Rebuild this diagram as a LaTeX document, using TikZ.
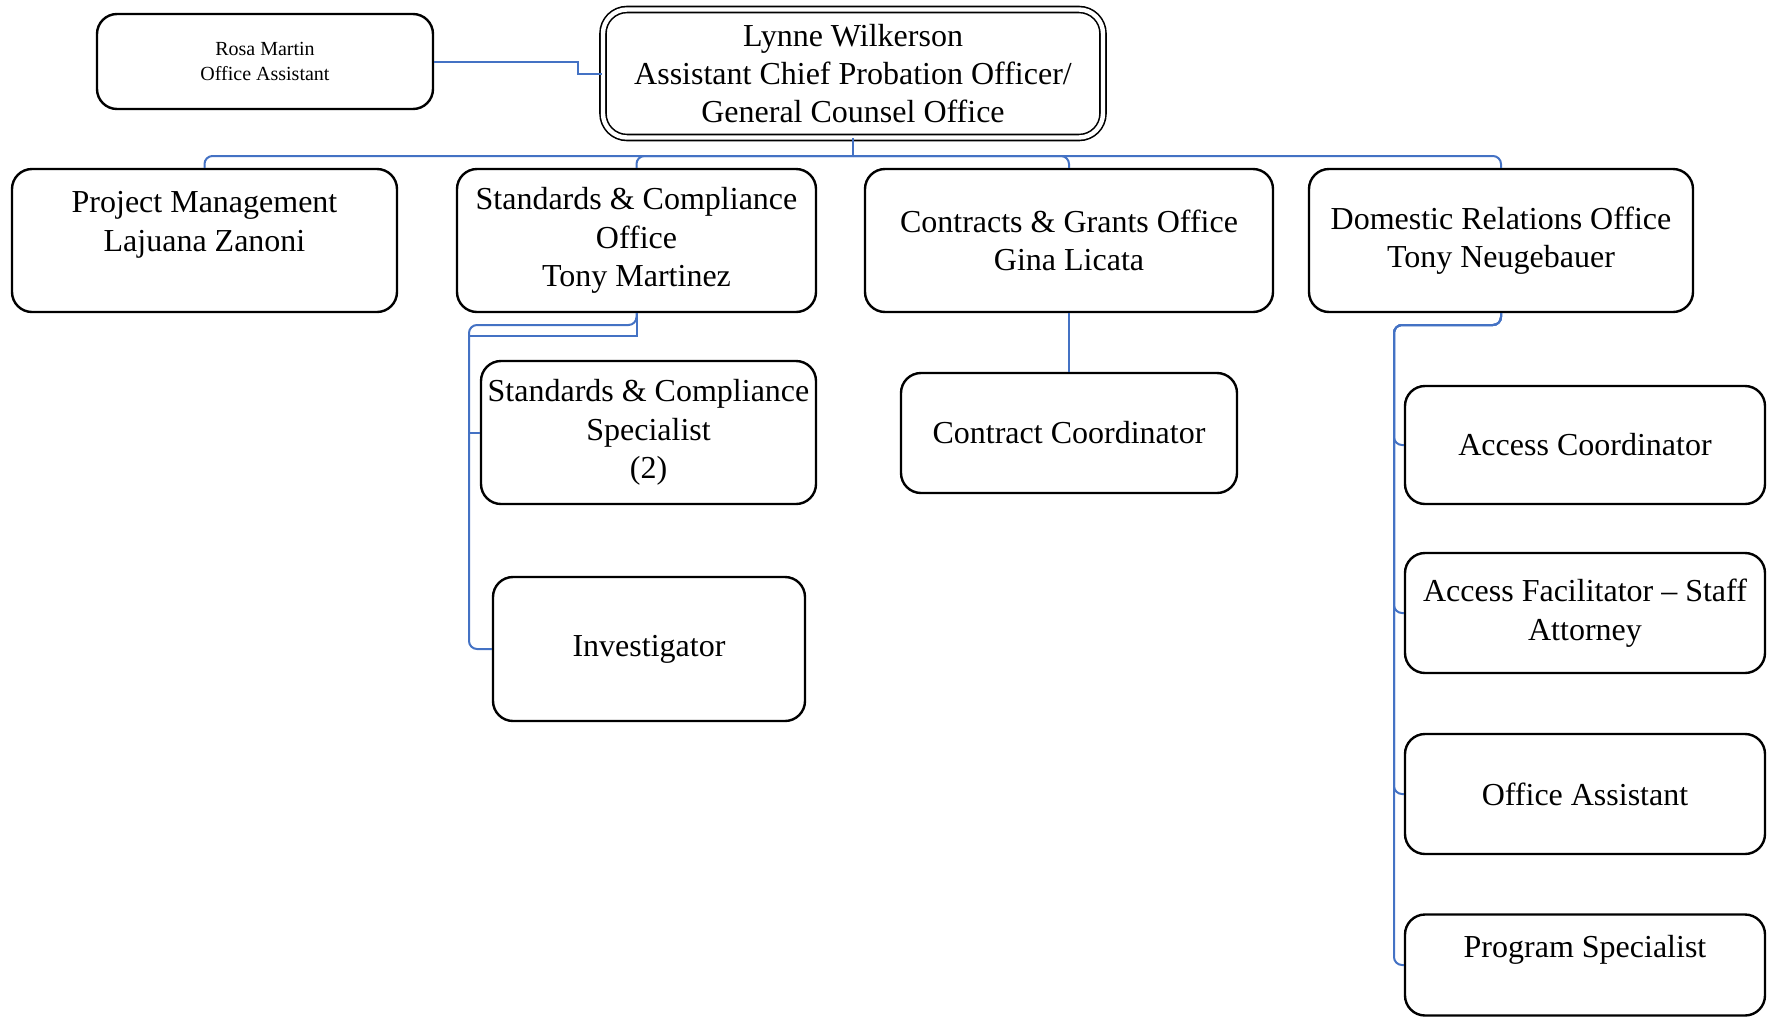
\documentclass[tikz,border=0pt]{standalone}
\usepackage{fontspec}
\setmainfont{Liberation Serif}
\definecolor{linkblue}{RGB}{68,114,196}
\begin{document}
\begin{tikzpicture}[
    x=0.5pt, y=-0.5pt,
    unit/.style={draw, line width=1.2pt, rounded corners=10pt, align=center, inner sep=2pt, font=\fontsize{16}{19.2}\selectfont},
    head/.style={unit, double, double distance=2.2pt, line width=0.8pt, rounded corners=12pt},
    small/.style={unit, font=\fontsize{10}{12.4}\selectfont},
    link/.style={draw=linkblue, line width=1pt, rounded corners=4pt}
]
    \useasboundingbox (0,0) rectangle (1768,1018);

    % Head and assistant
    \node[head, minimum width=250pt, minimum height=64pt] (lynne) at (853,73.5) {Lynne Wilkerson\\Assistant Chief Probation Officer/\\General Counsel Office};
    \node[small, minimum width=168pt, minimum height=47.5pt] (rosa) at (265,61.5) {Rosa Martin\\Office Assistant};

    % Offices
    \node[unit, minimum width=192.5pt, minimum height=71.5pt] (proj) at (204.5,240.5) {Project Management\\Lajuana Zanoni\\[-6pt]\strut};
    \node[unit, minimum width=179.5pt, minimum height=71.5pt] (std) at (636.5,240.5) {Standards \& Compliance\\Office\\Tony Martinez};
    \node[unit, minimum width=204pt, minimum height=71.5pt] (con) at (1069,240.5) {Contracts \& Grants Office\\Gina Licata};
    \node[unit, minimum width=192pt, minimum height=71.5pt] (dom) at (1501,240.5) {Domestic Relations Office\\Tony Neugebauer};

    % Staff
    \node[unit, minimum width=167.5pt, minimum height=71.5pt] (spec) at (648.5,432.5) {Standards \& Compliance\\Specialist\\(2)};
    \node[unit, minimum width=156pt, minimum height=72pt] (inv) at (649,649) {Investigator};
    \node[unit, minimum width=168pt, minimum height=60pt] (ccoord) at (1069,433) {Contract Coordinator};
    \node[unit, minimum width=180pt, minimum height=59pt] (acc) at (1585,445) {Access Coordinator};
    \node[unit, minimum width=180pt, minimum height=60pt] (fac) at (1585,613) {Access Facilitator -- Staff\\Attorney};
    \node[unit, minimum width=180pt, minimum height=60pt] (oa) at (1585,794) {Office Assistant};
    \node[unit, minimum width=180pt, minimum height=50.5pt] (ps) at (1585,965) {Program Specialist\\[-6pt]\strut};

    % Connectors
    \coordinate (bus) at (853,156);
    \coordinate (stdrail) at (469,325);
    \coordinate (stdrailb) at (469,336);
    \coordinate (domrail) at (1394,325);
    \draw[link, sharp corners] (rosa.east) -- ++(144,0) |- (lynne.west);
    \draw[link] (lynne.south) -- (bus);
    \foreach \n in {proj,std,con,dom}
        \draw[link] (bus) -| (\n.north);
    \draw[link] (std.south) |- (stdrail) |- (inv.west);
    \draw[link, sharp corners] (std.south) |- (stdrailb) |- (spec.west);
    \draw[link] (con.south) -- (ccoord.north);
    \foreach \n in {acc,fac,oa,ps}
        \draw[link] (dom.south) |- (domrail) |- (\n.west);
\end{tikzpicture}
\end{document}
